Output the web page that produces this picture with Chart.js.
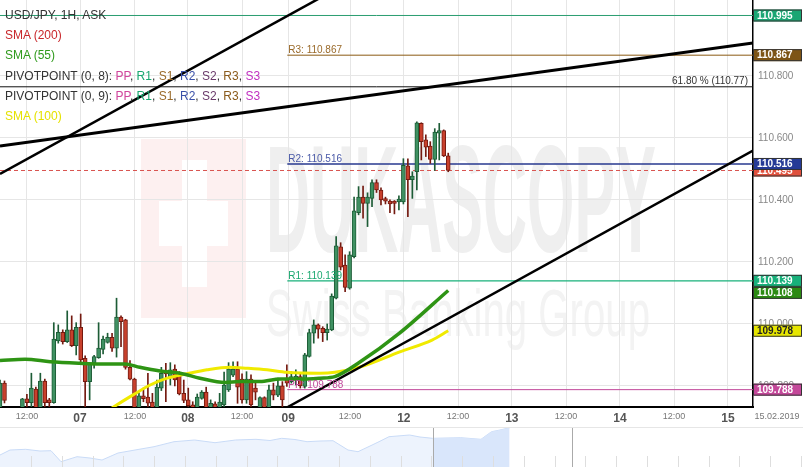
<!DOCTYPE html>
<html>
<head>
<meta charset="utf-8">
<script src="https://cdn.jsdelivr.net/npm/chart.js@4.4.1/dist/chart.umd.min.js"></script>
<style>
  html, body { margin: 0; padding: 0; background: #fff; overflow: hidden; }
  #wrap { position: relative; width: 803px; height: 467px; font-family: "Liberation Sans", Arial, sans-serif; }
  #main { position: absolute; left: 0; top: 0; }
  #nav { position: absolute; left: 0; top: 428px; }
  #navline { position: absolute; left: 0; top: 427px; width: 803px; height: 1px; background: #e6e6e6; }
  #legend { position: absolute; left: 5px; top: 5px; font-size: 12px; line-height: 20.2px; color: #333; pointer-events: none; white-space: nowrap; }
  .pp { color: #d0459c; } .r1 { color: #18a870; } .s1 { color: #9a6a2a; } .r2 { color: #3a50a8; }
  .s2 { color: #6a3a6a; } .r3 { color: #8a5a1a; } .s3 { color: #c030c0; }
</style>
</head>
<body>
<div id="wrap">
  <canvas id="main" width="803" height="427"></canvas>
  <div id="navline"></div>
  <canvas id="nav" width="803" height="39"></canvas>
  <div id="legend">
    <div>USD/JPY, 1H, ASK</div>
    <div style="color:#c8262a">SMA (200)</div>
    <div style="color:#2f9a1c">SMA (55)</div>
    <div>PIVOTPOINT (0, 8): <span class="pp">PP</span>, <span class="r1">R1</span>, <span class="s1">S1</span>, <span class="r2">R2</span>, <span class="s2">S2</span>, <span class="r3">R3</span>, <span class="s3">S3</span></div>
    <div>PIVOTPOINT (0, 9): <span class="pp">PP</span>, <span class="r1">R1</span>, <span class="s1">S1</span>, <span class="r2">R2</span>, <span class="s2">S2</span>, <span class="r3">R3</span>, <span class="s3">S3</span></div>
    <div style="color:#e5e200">SMA (100)</div>
  </div>
</div>
<script>
// Hourly candles, one slot per trading hour
const hourSpan = 168;
const candleOpen = [109.723,109.809,109.728,109.700,109.720,109.725,109.758,109.746,109.790,109.727,
  109.816,109.755,109.746,109.945,109.973,109.943,109.981,109.930,109.989,109.889,
  109.814,109.873,109.891,109.918,109.940,109.957,109.922,110.022,110.013,109.860,
  109.822,109.728,109.768,109.764,109.748,109.728,109.793,109.849,109.830,109.854,
  109.835,109.776,109.755,109.739,109.728,109.760,109.780,109.728,109.742,109.728,
  109.739,109.787,109.835,109.854,109.822,109.755,109.822,109.793,109.728,109.762,
  109.730,109.787,109.770,109.800,109.825,109.814,109.819,109.830,109.798,109.895,
  109.970,109.997,109.986,109.972,109.981,110.083,110.249,110.190,110.115,110.217,
  110.359,110.409,110.389,110.405,110.456,110.432,110.404,110.396,110.396,110.394,
  110.394,110.510,110.465,110.491,110.647,110.594,110.574,110.531,110.615,110.624,
  110.542];
const candleHigh = [109.819,109.816,109.730,109.725,109.729,109.760,109.773,109.841,109.796,109.841,
  109.822,109.760,110.004,109.997,109.981,110.042,110.026,110.004,110.032,109.897,
  109.875,109.899,110.004,109.961,109.970,109.970,110.083,110.026,110.015,109.882,
  109.825,109.778,109.793,109.841,109.776,109.819,109.860,109.873,109.875,109.868,
  109.846,109.819,109.793,109.749,109.774,109.785,109.796,109.755,109.749,109.776,
  109.845,109.875,109.878,109.878,109.839,109.846,109.836,109.809,109.765,109.765,
  109.803,109.809,109.825,109.814,109.868,109.846,109.852,109.841,109.905,109.983,
  110.013,110.000,109.991,110.000,110.097,110.282,110.262,110.223,110.233,110.409,
  110.443,110.445,110.423,110.465,110.465,110.439,110.409,110.400,110.398,110.413,
  110.533,110.533,110.491,110.652,110.649,110.610,110.588,110.630,110.647,110.626,
  110.551];
const candleLow = [109.716,109.745,109.700,109.690,109.705,109.715,109.730,109.730,109.715,109.715,
  109.733,109.733,109.744,109.938,109.935,109.940,109.927,109.900,109.873,109.730,
  109.755,109.857,109.889,109.903,109.938,109.911,109.893,109.927,109.854,109.819,
  109.715,109.720,109.749,109.733,109.720,109.720,109.785,109.749,109.803,109.800,
  109.771,109.746,109.730,109.720,109.720,109.757,109.720,109.720,109.720,109.720,
  109.728,109.782,109.830,109.744,109.744,109.744,109.730,109.755,109.720,109.720,
  109.720,109.755,109.765,109.733,109.798,109.809,109.803,109.793,109.793,109.893,
  109.938,109.954,109.943,109.948,109.978,110.081,110.174,110.104,110.112,110.213,
  110.352,110.341,110.314,110.378,110.424,110.384,110.387,110.359,110.355,110.368,
  110.387,110.346,110.405,110.432,110.529,110.540,110.518,110.495,110.529,110.540,
  110.491];
const candleClose = [109.809,109.753,109.710,109.720,109.725,109.758,109.746,109.793,109.725,109.816,
  109.746,109.746,109.951,109.973,109.943,109.981,109.930,109.989,109.884,109.814,
  109.871,109.895,109.922,109.951,109.957,109.922,110.022,110.007,109.860,109.822,
  109.725,109.768,109.759,109.744,109.728,109.796,109.841,109.839,109.852,109.819,
  109.774,109.753,109.736,109.728,109.764,109.780,109.728,109.744,109.728,109.748,
  109.803,109.854,109.854,109.796,109.755,109.822,109.739,109.780,109.762,109.728,
  109.787,109.770,109.800,109.755,109.809,109.830,109.832,109.800,109.900,109.972,
  109.997,109.983,109.972,109.983,110.090,110.252,110.183,110.118,110.223,110.365,
  110.409,110.389,110.409,110.456,110.432,110.400,110.396,110.387,110.389,110.403,
  110.512,110.465,110.477,110.649,110.588,110.570,110.531,110.619,110.624,110.542,
  110.495];

// Moving averages (read at a few hours)
const sma55Hours = [0, 5.6, 11.2, 17.8, 22.3, 27.9, 31.2, 35.7, 40.2, 44.6, 50.2, 53.5, 58, 62.5, 66.9, 71.4, 74.7, 80.3, 89.2, 100];
const sma55Values = [109.882, 109.886, 109.878, 109.873, 109.871, 109.871, 109.860, 109.848, 109.841, 109.825, 109.811, 109.814, 109.814, 109.822, 109.822, 109.825, 109.830, 109.877, 109.971, 110.108];
const sma100Hours = [23.4, 29.7, 33.5, 37.3, 41.7, 46.2, 51.3, 55.1, 59.6, 64, 71.4, 74.7, 80.3, 89.2, 96.4, 100];
const sma100Values = [109.715, 109.771, 109.803, 109.825, 109.839, 109.852, 109.860, 109.857, 109.852, 109.844, 109.841, 109.844, 109.861, 109.910, 109.948, 109.978];

// Levels
const pivotNames = ['R3', 'R2', 'R1', 'PP'];
const pivotValues = [110.867, 110.516, 110.139, 109.788];
const pivotStartHour = 64.1;
const topLevel = 110.995;
const fibLevel = 110.765;
const fibText = '61.80 % (110.77)';
const lastPrice = 110.495;

// Drawn trend lines: [startHour, startPrice, endHour, endPrice]
const trendLines = [
  [0, 110.574, 168, 110.906],
  [0, 110.484, 73.6, 111.069],
  [64.2, 109.732, 168, 110.559]
];

// Axes
const yTicks = [109.8, 110.0, 110.2, 110.4, 110.6, 110.8];
const xTickHours = [6.0, 17.85, 30.1, 41.9, 54.0, 64.3, 78.1, 90.1, 102.2, 114.2, 126.3, 138.3, 150.4, 162.4];
const xTickLabels = ['12:00', '07', '12:00', '08', '12:00', '09', '12:00', '12', '12:00', '13', '12:00', '14', '12:00', '15'];
const dateLabel = '15.02.2019';

// Navigator history
const navX = [0, 10, 25.6, 40, 51, 61, 77, 90, 102, 118, 135, 154, 174, 194.6, 215, 235.5, 256, 270, 281.6, 295, 307, 320, 333, 348, 358, 370, 379, 389, 409.6, 420, 432.7, 446, 460.8, 481, 491.5, 500, 507, 509.5];
const navY = [12, 17, 17.7, 16, 16.3, 5.3, 10.3, 9, 7, 14, 17, 20.3, 25.3, 27, 24.3, 27, 27.7, 26.5, 28.7, 27.5, 25.3, 26, 26.3, 17, 15.3, 21, 25.3, 30.3, 32, 30, 28.7, 29, 29.3, 27.7, 35.3, 37, 38.7, 39];
const navWindow = [432.7, 509.5];
const navHandles = [432.7, 572];

const FONT = '"Liberation Sans", Arial, sans-serif';
const upFill = '#3f9162', upLine = '#1d5c36';
const downFill = '#c8402c', downLine = '#741a10';

const isUp = candleClose.map((c, i) => c >= candleOpen[i]);

function hline(x1, x2, v, color, width, dash) {
  return {
    type: 'line', data: [{ x: x1, y: v }, { x: x2, y: v }],
    borderColor: color, borderWidth: width, borderDash: dash || [],
    pointRadius: 0, order: 10
  };
}

const datasets = [
  hline(0, hourSpan, topLevel, '#2a9d70', 1),
  hline(0, hourSpan, fibLevel, '#111', 1),
  hline(0, hourSpan, lastPrice, '#d9534f', 1, [4, 3]),
  hline(pivotStartHour, hourSpan, pivotValues[0], '#8b5a12', 1),
  hline(pivotStartHour, hourSpan, pivotValues[1], '#27388f', 1.3),
  hline(pivotStartHour, hourSpan, pivotValues[2], '#19b07a', 1.3),
  hline(pivotStartHour, hourSpan, pivotValues[3], '#c2479a', 1),
  {
    type: 'bar', grouped: false, order: 8,
    data: candleOpen.map((_, i) => ({ x: i, y: [candleLow[i], candleHigh[i]] })),
    backgroundColor: isUp.map(u => u ? upLine : downLine),
    barThickness: 1, minBarLength: 1
  },
  {
    type: 'bar', grouped: false, order: 7,
    data: candleOpen.map((o, i) => ({ x: i, y: [o, candleClose[i]] })),
    backgroundColor: isUp.map(u => u ? upFill : downFill),
    borderColor: isUp.map(u => u ? upLine : downLine),
    borderWidth: 1, borderSkipped: false,
    barThickness: 4, minBarLength: 1
  },
  {
    type: 'line', order: 5,
    data: sma100Hours.map((h, i) => ({ x: h, y: sma100Values[i] })),
    borderColor: '#f0ea00', borderWidth: 3, pointRadius: 0, cubicInterpolationMode: 'monotone'
  },
  {
    type: 'line', order: 4,
    data: sma55Hours.map((h, i) => ({ x: h, y: sma55Values[i] })),
    borderColor: '#2e9414', borderWidth: 3.5, pointRadius: 0, cubicInterpolationMode: 'monotone'
  }
];
trendLines.forEach((t, k) => {
  datasets.push({
    type: 'line', order: 2,
    data: [{ x: t[0], y: t[1] }, { x: t[2], y: t[3] }],
    borderColor: '#000', borderWidth: k === 0 ? 3 : 2.5, pointRadius: 0
  });
});

function fitText(ctx, text, x, base, width, font) {
  ctx.font = font;
  const w = ctx.measureText(text).width;
  ctx.save();
  ctx.translate(x, base);
  ctx.scale(width / w, 1);
  ctx.fillText(text, 0, 0);
  ctx.restore();
}

const overlay = {
  id: 'overlay',
  beforeDraw(chart) {
    const ctx = chart.ctx;
    ctx.save();
    ctx.fillStyle = '#fff';
    ctx.fillRect(0, 0, chart.width, chart.height);
    // watermark
    ctx.fillStyle = '#fdf0f0';
    ctx.fillRect(141, 139, 105, 179);
    ctx.fillStyle = '#fff';
    ctx.fillRect(182, 160, 25, 127);
    ctx.fillRect(159, 201, 69, 45);
    ctx.fillStyle = '#efefef';
    ctx.textBaseline = 'alphabetic';
    fitText(ctx, 'DUKASCOPY', 266, 252, 390, 'bold 152px ' + FONT);
    ctx.fillStyle = '#f3f3f3';
    fitText(ctx, 'Swiss Banking Group', 266, 336, 384, '66px ' + FONT);
    ctx.restore();
  },
  afterDatasetsDraw(chart) {
    const ctx = chart.ctx, x = chart.scales.x, y = chart.scales.y;
    ctx.save();
    ctx.font = '10px ' + FONT;
    ctx.textBaseline = 'alphabetic';
    const labelColors = ['#9a6a2a', '#4a5aa8', '#1aa870', '#c0489a'];
    const lx = x.getPixelForValue(pivotStartHour) + 1;
    pivotNames.forEach((n, i) => {
      ctx.fillStyle = labelColors[i];
      ctx.textAlign = 'left';
      ctx.fillText(n + ': ' + pivotValues[i].toFixed(3), lx, y.getPixelForValue(pivotValues[i]) - 2);
    });
    ctx.fillStyle = '#333';
    ctx.textAlign = 'right';
    ctx.fillText(fibText, chart.chartArea.right - 5, y.getPixelForValue(fibLevel) - 3);
    ctx.restore();
  },
  afterDraw(chart) {
    const ctx = chart.ctx, y = chart.scales.y, area = chart.chartArea;
    ctx.save();
    const badges = [
      { v: lastPrice, bg: '#e0503c', fg: '#fff', free: true },
      { v: topLevel, bg: '#1aa673', fg: '#fff' },
      { v: pivotValues[0], bg: '#7d5415', fg: '#fff' },
      { v: pivotValues[1], bg: '#253a96', fg: '#fff' },
      { v: pivotValues[2], bg: '#17b07a', fg: '#fff' },
      { v: sma55Values[sma55Values.length - 1], bg: '#2b8a12', fg: '#fff' },
      { v: sma100Values[sma100Values.length - 1], bg: '#e6e600', fg: '#222' },
      { v: pivotValues[3], bg: '#c4489a', fg: '#fff' }
    ];
    const h = 12;
    let prevBottom = -100;
    ctx.font = 'bold 10px ' + FONT;
    ctx.textBaseline = 'middle';
    ctx.textAlign = 'left';
    badges.forEach(b => {
      let cy = y.getPixelForValue(b.v);
      if (!b.free) {
        if (cy - h / 2 < prevBottom) cy = prevBottom + h / 2;
        prevBottom = cy + h / 2;
      }
      ctx.fillStyle = b.bg;
      ctx.fillRect(area.right, cy - h / 2, 49, h);
      ctx.strokeStyle = '#333';
      ctx.lineWidth = 1;
      ctx.strokeRect(area.right + 0.5, cy - h / 2 + 0.5, 48, h - 1);
      ctx.fillStyle = b.fg;
      ctx.fillText(b.v.toFixed(3), area.right + 4, cy + 0.5);
    });
    ctx.font = '9px ' + FONT;
    ctx.fillStyle = '#777';
    ctx.textAlign = 'center';
    ctx.fillText(dateLabel, 777, 417);
    ctx.restore();
  }
};

new Chart(document.getElementById('main'), {
  type: 'line',
  data: { datasets },
  plugins: [overlay],
  options: {
    responsive: false,
    animation: false,
    events: [],
    layout: { padding: 0 },
    plugins: { legend: { display: false }, tooltip: { enabled: false } },
    scales: {
      x: {
        type: 'linear', min: 0, max: hourSpan, offset: false,
        afterBuildTicks: s => { s.ticks = xTickHours.map(v => ({ value: v })); },
        afterFit: s => { s.height = 20; s.paddingLeft = 0; s.paddingRight = 0; },
        grid: { color: '#e6e6e6', drawTicks: false, offset: false },
        border: { color: '#000', width: 2 },
        ticks: {
          autoSkip: false, maxRotation: 0, padding: 4,
          callback: (v, i) => xTickLabels[i],
          font: c => xTickLabels[c.index] && xTickLabels[c.index].includes(':')
            ? { size: 9, family: FONT } : { size: 12, weight: 'bold', family: FONT },
          color: c => xTickLabels[c.index] && xTickLabels[c.index].includes(':') ? '#777' : '#555'
        }
      },
      y: {
        position: 'right', min: 109.732, max: 111.045,
        afterBuildTicks: s => { s.ticks = yTicks.map(v => ({ value: v })); },
        afterFit: s => { s.width = 50; s.paddingTop = 0; s.paddingBottom = 0; },
        grid: { color: '#e6e6e6', drawTicks: false },
        border: { color: '#000', width: 1.5 },
        ticks: {
          padding: 5, color: '#888', font: { size: 10, family: FONT },
          callback: v => Number(v).toFixed(3)
        }
      }
    }
  }
});

const navPlugin = {
  id: 'navDeco',
  afterDatasetsDraw(chart) {
    const ctx = chart.ctx, x = chart.scales.x;
    ctx.save();
    ctx.strokeStyle = '#dedede';
    ctx.lineWidth = 1;
    for (let p = 31; p < 803; p += 30.8) {
      ctx.beginPath();
      ctx.moveTo(Math.round(p) + 0.5, 28);
      ctx.lineTo(Math.round(p) + 0.5, 39);
      ctx.stroke();
    }
    ctx.strokeStyle = '#aaa';
    navHandles.forEach(hx => {
      const px = Math.round(x.getPixelForValue(hx)) + 0.5;
      ctx.beginPath();
      ctx.moveTo(px, 0);
      ctx.lineTo(px, 39);
      ctx.stroke();
    });
    ctx.restore();
  }
};

const navPts = navX.map((v, i) => ({ x: v, y: navY[i] }));
new Chart(document.getElementById('nav'), {
  type: 'line',
  data: {
    datasets: [
      {
        data: navPts.filter(p => p.x >= navWindow[0] && p.x <= navWindow[1]),
        borderWidth: 0, backgroundColor: '#d9e6fb', fill: 'origin', pointRadius: 0, order: 1
      },
      {
        data: navPts,
        borderColor: '#c9dbf7', borderWidth: 1, backgroundColor: '#edf3fd', fill: 'origin', pointRadius: 0, order: 2
      }
    ]
  },
  plugins: [navPlugin],
  options: {
    responsive: false,
    animation: false,
    events: [],
    layout: { padding: 0 },
    plugins: { legend: { display: false }, tooltip: { enabled: false } },
    scales: {
      x: { type: 'linear', min: 0, max: 803, display: false },
      y: { min: 0, max: 39, display: false }
    }
  }
});
</script>
</body>
</html>
